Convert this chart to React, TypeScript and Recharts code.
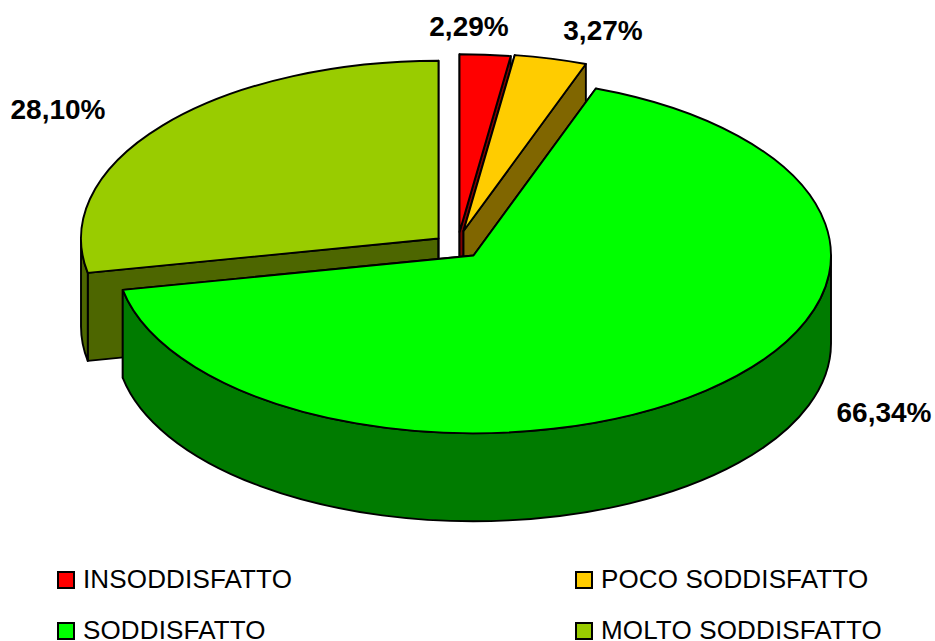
import React from 'react';
import { PieChart, Pie, Legend } from 'recharts';

const categories = ['INSODDISFATTO', 'POCO SODDISFATTO', 'SODDISFATTO', 'MOLTO SODDISFATTO'];
const values = [2.29, 3.27, 66.34, 28.1];
const valueLabels = ['2,29%', '3,27%', '66,34%', '28,10%'];

const topColors = ['#FF0000', '#FFCC00', '#00FF00', '#99CC00'];
const wallColors = ['#800000', '#806600', '#007B00', '#4D6600'];
const explodeX = [2.5, 6.5, 16.5, -18.5];
const explodeY = [-15, -16, 8.5, -8.5];
const labelX = [469, 603, 884, 58];
const labelY = [36, 40, 422, 119];
const legendX = [57, 575, 57, 575];
const legendY = [571, 571, 622, 622];

const rows = categories.map((name, i) => ({ name, value: values[i], idx: i }));

const WIDTH = 935;
const HEIGHT = 641;
const CX = 457;
const CY = 247;
const RX = 357.5;
const RY_RATIO = 0.4972;
const DEPTH = 88;
const FRONT_SLICE = 2;

const rad = (d: number) => (d * Math.PI) / 180;

function sliceShape(props: any, wanted: (i: number) => boolean) {
  const i = props.payload?.idx ?? props.idx ?? props.index;
  if (!wanted(i)) return <g />;
  const rx = props.outerRadius;
  const ry = rx * RY_RATIO;
  const ax = props.cx + explodeX[i];
  const ay = props.cy + explodeY[i];
  // clockwise angles measured from 12 o'clock
  const t1 = 90 - props.startAngle;
  const t2 = 90 - props.endAngle;
  const P = (t: number, d = 0): [number, number] => [ax + rx * Math.sin(rad(t)), ay - ry * Math.cos(rad(t)) + d];
  const f = (p: [number, number]) => `${p[0].toFixed(2)} ${p[1].toFixed(2)}`;
  const stroke = { stroke: '#000', strokeWidth: 1.9, strokeLinejoin: 'round' as const };

  const face = (t: number) =>
    `M${ax} ${ay}L${f(P(t))}L${f(P(t, DEPTH))}L${ax} ${ay + DEPTH}Z`;

  const w1 = Math.max(t1, 90);
  const w2 = Math.min(t2, 270);
  let wall = '';
  if (w2 > w1) {
    const large = w2 - w1 > 180 ? 1 : 0;
    wall = `M${f(P(w1))}A${rx} ${ry} 0 ${large} 1 ${f(P(w2))}L${f(P(w2, DEPTH))}A${rx} ${ry} 0 ${large} 0 ${f(P(w1, DEPTH))}Z`;
  }
  const large = t2 - t1 > 180 ? 1 : 0;
  const top = `M${ax} ${ay}L${f(P(t1))}A${rx} ${ry} 0 ${large} 1 ${f(P(t2))}Z`;
  return (
    <g>
      <path d={face(t1)} fill={wallColors[i]} {...stroke} />
      <path d={face(t2)} fill={wallColors[i]} {...stroke} />
      {wall && <path d={wall} fill={wallColors[i]} {...stroke} />}
      <path d={top} fill={topColors[i]} {...stroke} />
    </g>
  );
}

function renderLabel(props: any) {
  const i = props.payload?.idx ?? props.idx ?? props.index;
  return (
    <text
      x={labelX[i]}
      y={labelY[i]}
      textAnchor="middle"
      fontFamily="'Liberation Sans', Arial, sans-serif"
      fontWeight={700}
      fontSize={28}
      fill="#000"
    >
      {valueLabels[i]}
    </text>
  );
}

function LegendContent() {
  return (
    <div style={{ position: 'relative', width: WIDTH, height: HEIGHT }}>
      {categories.map((name, i) => (
        <React.Fragment key={name}>
          <div
            style={{
              position: 'absolute',
              left: legendX[i],
              top: legendY[i],
              width: 14,
              height: 14,
              background: topColors[i],
              border: '2px solid #000',
            }}
          />
          <div
            style={{
              position: 'absolute',
              left: legendX[i] + 26,
              top: legendY[i] - 2,
              fontFamily: "'Liberation Sans', Arial, sans-serif",
              fontSize: 26,
              lineHeight: '20px',
              letterSpacing: 0.15,
              color: '#000',
              whiteSpace: 'nowrap',
            }}
          >
            {name}
          </div>
        </React.Fragment>
      ))}
    </div>
  );
}

export default function App() {
  return (
    <div style={{ position: 'absolute', left: 0, top: 0, width: WIDTH, height: HEIGHT, background: '#fff' }}>
      <PieChart width={WIDTH} height={HEIGHT} margin={{ top: 0, right: 0, bottom: 0, left: 0 }}>
        <Pie
          data={rows}
          dataKey="value"
          nameKey="name"
          cx={CX}
          cy={CY}
          outerRadius={RX}
          startAngle={90}
          endAngle={-270}
          stroke="none"
          isAnimationActive={false}
          shape={(p: any) => sliceShape(p, (i) => i !== FRONT_SLICE)}
        />
        <Pie
          data={rows}
          dataKey="value"
          nameKey="name"
          cx={CX}
          cy={CY}
          outerRadius={RX}
          startAngle={90}
          endAngle={-270}
          stroke="none"
          isAnimationActive={false}
          shape={(p: any) => sliceShape(p, (i) => i === FRONT_SLICE)}
          label={renderLabel}
          labelLine={false}
        />
        <Legend
          content={<LegendContent />}
          wrapperStyle={{ position: 'absolute', left: 0, top: 0, width: WIDTH, height: HEIGHT, pointerEvents: 'none' }}
        />
      </PieChart>
    </div>
  );
}
